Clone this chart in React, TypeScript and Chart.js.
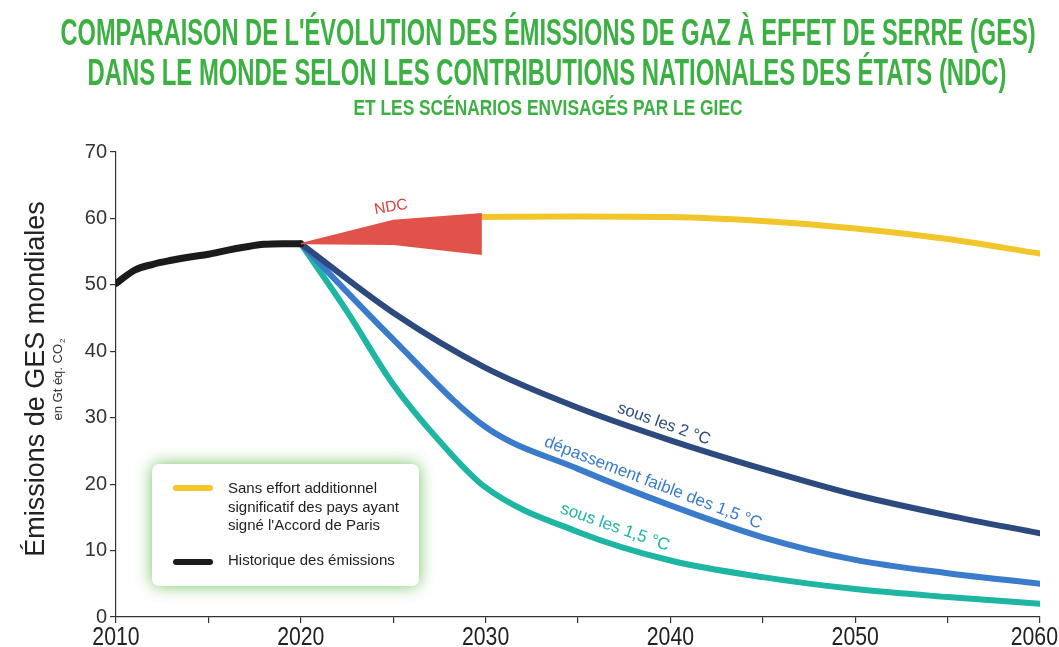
import React, { useEffect, useRef } from "react";
import { Chart, registerables } from "chart.js";

Chart.register(...registerables);

// ---------- Data ----------
const TITLE_LINES = [
  "COMPARAISON DE L'ÉVOLUTION DES ÉMISSIONS DE GAZ À EFFET DE SERRE (GES)",
  "DANS LE MONDE SELON LES CONTRIBUTIONS NATIONALES DES ÉTATS (NDC)",
  "ET LES SCÉNARIOS ENVISAGÉS PAR LE GIEC",
];
const Y_TITLE = "Émissions de GES mondiales";
const Y_SUBTITLE = "en Gt éq. CO";
const Y_SUBTITLE_SUB = "2";

const HIST_YEARS = [2010, 2011, 2012, 2013, 2014, 2015, 2016, 2017, 2018, 2019, 2020];
const HIST_VALUES = [50.2, 52.2, 53.1, 53.7, 54.2, 54.6, 55.2, 55.7, 56.1, 56.2, 56.2];

const NDC_YEARS = [2020, 2025, 2029.8];
const NDC_HIGH = [56.3, 59.8, 60.8];
const NDC_LOW = [56.1, 56.0, 54.5];

const NOEFFORT_YEARS = [2029.8, 2035, 2040, 2045, 2050, 2055, 2060];
const NOEFFORT_VALUES = [60.2, 60.3, 60.2, 59.6, 58.5, 56.9, 54.7];

const SCEN_YEARS = [2020, 2025, 2030, 2035, 2040, 2045, 2050, 2055, 2060];
const BELOW_2C = [56.2, 45.8, 37.5, 31.5, 26.6, 22.3, 18.4, 15.3, 12.6];
const OVERSHOOT_15C = [56.2, 41.8, 28.6, 22.3, 16.8, 12.0, 8.6, 6.6, 5.0];

const TEAL_YEARS = [2020, 2022.5, 2025, 2027.5, 2030, 2035, 2040, 2045, 2050, 2055, 2060];
const BELOW_15C = [56.2, 46.0, 35.0, 26.5, 19.5, 12.8, 8.5, 6.0, 4.2, 3.0, 2.0];

const X_TICK_LABELS = [2010, 2020, 2030, 2040, 2050, 2060];

const CURVE_LABELS = ["sous les 2 °C", "dépassement faible des 1,5 °C", "sous les 1,5 °C", "NDC"];
const LEGEND_LABELS = [
  ["Sans effort additionnel", "significatif des pays ayant", "signé l'Accord de Paris"],
  ["Historique des émissions"],
];

// ---------- Styles ----------
const GREEN = "#3cb043";
const YELLOW = "#f1c62a";
const BLACK = "#1b1b1b";
const NAVY = "#2c4a7e";
const BLUE = "#3a7cc9";
const TEAL = "#1fb5a3";
const RED = "#e0524a";
const SANS = "'Liberation Sans', Arial, sans-serif";

const pts = (xs: number[], ys: number[]) => xs.map((x, i) => ({ x, y: ys[i] }));

function drawFitted(ctx: CanvasRenderingContext2D, text: string, cx: number, baseline: number, width: number, font: string, color: string) {
  ctx.save();
  ctx.font = font;
  const w = ctx.measureText(text).width;
  ctx.translate(cx, baseline);
  ctx.scale(width / w, 1);
  ctx.fillStyle = color;
  ctx.textAlign = "center";
  ctx.textBaseline = "alphabetic";
  ctx.fillText(text, 0, 0);
  ctx.restore();
}

const overlayPlugin = {
  id: "overlay",
  afterDraw(chart: any) {
    const ctx: CanvasRenderingContext2D = chart.ctx;
    const xs = chart.scales.x;
    const ys = chart.scales.y;

    // Titles
    drawFitted(ctx, TITLE_LINES[0], 548, 45, 975, `bold 36px ${SANS}`, GREEN);
    drawFitted(ctx, TITLE_LINES[1], 547, 85, 919, `bold 36px ${SANS}`, GREEN);
    drawFitted(ctx, TITLE_LINES[2], 548, 115, 389, `bold 22px ${SANS}`, GREEN);

    // X tick labels (condensed), positioned by the x scale
    ctx.save();
    ctx.fillStyle = "#222";
    ctx.font = `25px ${SANS}`;
    ctx.textAlign = "center";
    ctx.textBaseline = "alphabetic";
    const sx = 0.85;
    for (const t of xs.ticks) {
      if (!X_TICK_LABELS.includes(Number(t.value))) continue;
      const label = String(t.value);
      const half = (ctx.measureText(label).width * sx) / 2;
      const px = Math.min(xs.getPixelForValue(t.value), chart.width - 1 - half);
      ctx.save();
      ctx.translate(px, 645);
      ctx.scale(sx, 1);
      ctx.fillText(label, 0, 0);
      ctx.restore();
    }
    ctx.restore();

    // Y axis title
    ctx.save();
    ctx.translate(44, 379);
    ctx.rotate(-Math.PI / 2);
    ctx.fillStyle = "#222";
    ctx.font = `27px ${SANS}`;
    ctx.textAlign = "center";
    ctx.textBaseline = "alphabetic";
    ctx.fillText(Y_TITLE, 0, 0);
    ctx.restore();

    ctx.save();
    ctx.translate(62, 380);
    ctx.rotate(-Math.PI / 2);
    ctx.fillStyle = "#333";
    ctx.font = `13px ${SANS}`;
    const w1 = ctx.measureText(Y_SUBTITLE).width;
    ctx.font = `8px ${SANS}`;
    const w2 = ctx.measureText(Y_SUBTITLE_SUB).width;
    const start = -(w1 + w2) / 2;
    ctx.textAlign = "left";
    ctx.font = `13px ${SANS}`;
    ctx.fillText(Y_SUBTITLE, start, 0);
    ctx.font = `8px ${SANS}`;
    ctx.fillText(Y_SUBTITLE_SUB, start + w1 + 1, 3);
    ctx.restore();

    // Curve labels
    const labelSpecs = [
      { text: CURVE_LABELS[0], x: 2039.65, y: 29.05, a: 19.6, c: NAVY, f: 16.5 },
      { text: CURVE_LABELS[1], x: 2039.06, y: 20.17, a: 21, c: BLUE, f: 17 },
      { text: CURVE_LABELS[2], x: 2037.0, y: 13.5, a: 19.5, c: TEAL, f: 17 },
      { text: CURVE_LABELS[3], x: 2024.88, y: 61.7, a: -10, c: "#d8413c", f: 15.5 },
    ];
    for (const s of labelSpecs) {
      ctx.save();
      ctx.translate(xs.getPixelForValue(s.x), ys.getPixelForValue(s.y));
      ctx.rotate((s.a * Math.PI) / 180);
      ctx.fillStyle = s.c;
      ctx.font = `${s.f}px ${SANS}`;
      ctx.textAlign = "center";
      ctx.textBaseline = "middle";
      ctx.fillText(s.text, 0, 0);
      ctx.restore();
    }

    // Legend box
    const bx = 152, by = 464, bw = 267, bh = 122;
    ctx.save();
    ctx.shadowColor = "rgba(90, 185, 70, 0.85)";
    ctx.shadowBlur = 16;
    ctx.fillStyle = "#fff";
    ctx.beginPath();
    (ctx as any).roundRect(bx, by, bw, bh, 7);
    ctx.fill();
    ctx.restore();

    ctx.save();
    ctx.lineCap = "round";
    ctx.lineWidth = 6;
    ctx.strokeStyle = YELLOW;
    ctx.beginPath();
    ctx.moveTo(176, 488);
    ctx.lineTo(210, 488);
    ctx.stroke();
    ctx.strokeStyle = BLACK;
    ctx.beginPath();
    ctx.moveTo(176, 562);
    ctx.lineTo(210, 562);
    ctx.stroke();
    ctx.fillStyle = "#222";
    ctx.font = `15px ${SANS}`;
    ctx.textAlign = "left";
    ctx.textBaseline = "middle";
    LEGEND_LABELS[0].forEach((t, i) => ctx.fillText(t, 228, 489 + i * 18.5));
    ctx.fillText(LEGEND_LABELS[1][0], 228, 561);
    ctx.restore();
  },
};

export default function App() {
  const ref = useRef<HTMLCanvasElement | null>(null);

  useEffect(() => {
    if (!ref.current) return;
    const lineBase = {
      pointRadius: 0,
      borderCapStyle: "round" as const,
      borderJoinStyle: "round" as const,
      cubicInterpolationMode: "monotone" as const,
      fill: false,
    };
    const chart = new Chart(ref.current, {
      type: "line",
      data: {
        datasets: [
          { ...lineBase, label: "NDC haut", data: pts(NDC_YEARS, NDC_HIGH), borderWidth: 0, borderColor: RED, backgroundColor: RED, cubicInterpolationMode: "default", tension: 0, order: 0 },
          { ...lineBase, label: "NDC bas", data: pts(NDC_YEARS, NDC_LOW), borderWidth: 0, borderColor: RED, backgroundColor: RED, fill: "-1", cubicInterpolationMode: "default", tension: 0, order: 0 },
          { ...lineBase, label: "Historique des émissions", data: pts(HIST_YEARS, HIST_VALUES), borderColor: BLACK, borderWidth: 7, order: 1 },
          { ...lineBase, label: "Sans effort additionnel", data: pts(NOEFFORT_YEARS, NOEFFORT_VALUES), borderColor: YELLOW, borderWidth: 6, order: 2 },
          { ...lineBase, label: "sous les 2 °C", data: pts(SCEN_YEARS, BELOW_2C), borderColor: NAVY, borderWidth: 6, order: 3 },
          { ...lineBase, label: "dépassement faible des 1,5 °C", data: pts(SCEN_YEARS, OVERSHOOT_15C), borderColor: BLUE, borderWidth: 6, order: 4 },
          { ...lineBase, label: "sous les 1,5 °C", data: pts(TEAL_YEARS, BELOW_15C), borderColor: TEAL, borderWidth: 6, order: 5 },
        ],
      },
      options: {
        animation: false,
        responsive: true,
        maintainAspectRatio: false,
        layout: { padding: { top: 152, right: 19, left: 0, bottom: 0 } },
        plugins: {
          legend: { display: false },
          tooltip: { enabled: false },
          title: { display: false },
        },
        scales: {
          x: {
            type: "linear",
            min: 2010,
            max: 2060,
            grid: { drawOnChartArea: false, drawTicks: true, tickLength: 6, color: "#333", lineWidth: 1.2 },
            border: { color: "#333", width: 1.2 },
            ticks: {
              display: false,
              stepSize: 5,
              autoSkip: false,
              maxRotation: 0,
            },
            afterFit: (s: any) => {
              s.height = 30;
              s.paddingLeft = 0;
              s.paddingRight = 0;
            },
          },
          y: {
            min: 0,
            max: 70,
            grid: { drawOnChartArea: false, drawTicks: true, tickLength: 6, color: "#333", lineWidth: 1.2 },
            border: { color: "#333", width: 1.2 },
            ticks: {
              stepSize: 10,
              padding: 3,
              color: "#333",
              font: { family: SANS, size: 20 },
            },
            afterFit: (s: any) => {
              s.width = 116;
              s.paddingTop = 0;
              s.paddingBottom = 0;
            },
          },
        },
      },
      plugins: [overlayPlugin],
    });
    return () => chart.destroy();
  }, []);

  return (
    <div style={{ position: "absolute", left: 0, top: 0, width: 1059, height: 647, background: "#fff" }}>
      <canvas ref={ref} />
    </div>
  );
}
